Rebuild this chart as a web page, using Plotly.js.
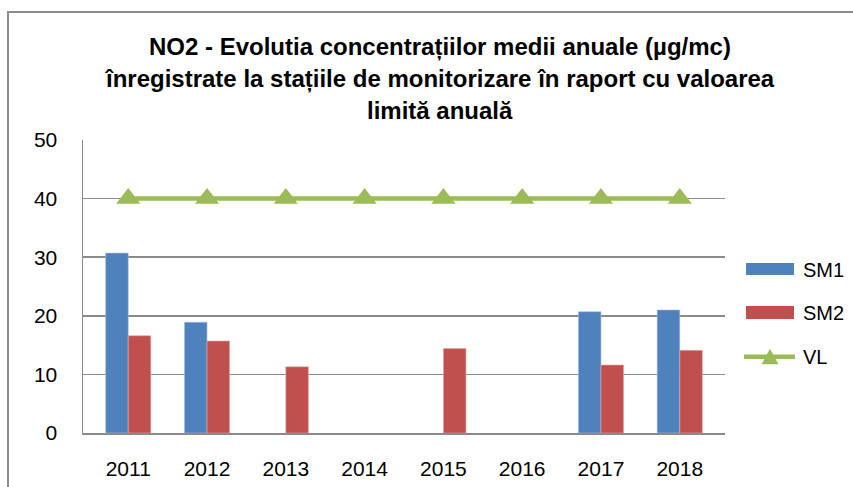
<!DOCTYPE html>
<html>
<head>
<meta charset="utf-8">
<script src="https://cdn.plot.ly/plotly-3.0.1.min.js"></script>
<style>
  html, body { margin: 0; padding: 0; overflow: hidden; background: #fff; }
  #wrap { position: relative; width: 853px; height: 487px; overflow: hidden; }
  #chart { position: absolute; left: 0; top: 0; width: 853px; height: 487px; }
  #frame { position: absolute; left: 7px; top: 11px; width: 1000px; height: 1000px;
           border: 2px solid #8c8c8c; pointer-events: none; box-sizing: border-box; }
</style>
</head>
<body>
<div id="wrap">
  <div id="chart"></div>
  <div id="frame"></div>
</div>
<script>
const years = ['2011', '2012', '2013', '2014', '2015', '2016', '2017', '2018'];
const sm1 = [30.7, 18.9, null, null, null, null, 20.7, 21.0];
const sm2 = [16.6, 15.7, 11.3, null, 14.4, null, 11.6, 14.1];
const vl = [40, 40, 40, 40, 40, 40, 40, 40];
const seriesNames = ['SM1', 'SM2', 'VL'];
const titleLines = [
  'NO2 - Evolutia concentrațiilor medii anuale (µg/mc)',
  'înregistrate la stațiile de monitorizare în raport cu valoarea',
  'limită anuală'
];
const yTicks = [0, 10, 20, 30, 40, 50];

const C1 = '#4F81BD', C2 = '#C0504D', C3 = '#9BBB59';
const gridC = '#8a8a8a';
const tickFont = { family: 'Liberation Sans, Arial, sans-serif', size: 21, color: '#000' };

const traces = [
  { type: 'bar', name: seriesNames[0], x: years, y: sm1, marker: { color: C1, line: { color: '#a9c0de', width: 0.6 } }, showlegend: false, hoverinfo: 'x+y' },
  { type: 'bar', name: seriesNames[1], x: years, y: sm2, marker: { color: C2, line: { color: '#e0a9a7', width: 0.6 } }, showlegend: false, hoverinfo: 'x+y' },
  { type: 'scatter', mode: 'lines+markers', name: seriesNames[2], x: years, y: vl,
    line: { color: C3, width: 4.5 }, marker: { symbol: 'triangle-up', size: 21, color: C3 }, showlegend: false }
];

// paper-coordinate helpers for the plot area
const L = 83, R = 725, T = 140, B = 433;
const px = v => (v - L) / (R - L);
const py = v => (B - v) / (B - T);

const annotations = titleLines.map((t, i) => ({
  text: '<b>' + t + '</b>', xref: 'paper', yref: 'paper',
  x: px(440), y: py([47, 79, 110][i]), xanchor: 'center', yanchor: 'middle',
  showarrow: false, font: { family: 'Liberation Sans Narrow, Arial Narrow, sans-serif', size: 24, color: '#000' }
}));
[[seriesNames[0], 270], [seriesNames[1], 312.7], [seriesNames[2], 356.7]].forEach(([n, y]) => {
  annotations.push({ text: n, xref: 'paper', yref: 'paper', x: px(801), y: py(y),
    xanchor: 'left', yanchor: 'middle', showarrow: false,
    font: { family: 'Liberation Sans, Arial, sans-serif', size: 20, color: '#000' } });
});

const shapes = [
  { type: 'rect', xref: 'paper', yref: 'paper', x0: px(746), x1: px(794), y0: py(275), y1: py(263), fillcolor: C1, line: { width: 0 } },
  { type: 'rect', xref: 'paper', yref: 'paper', x0: px(746), x1: px(794), y0: py(319), y1: py(306), fillcolor: C2, line: { width: 0 } },
  { type: 'line', xref: 'paper', yref: 'paper', x0: px(744), x1: px(795), y0: py(356.7), y1: py(356.7), line: { color: C3, width: 4.5 } },
  { type: 'path', xref: 'paper', yref: 'paper',
    path: `M ${px(761.5)},${py(364.3)} L ${px(778.5)},${py(364.3)} L ${px(770)},${py(348.7)} Z`,
    fillcolor: C3, line: { width: 0 } }
];

const layout = {
  width: 853, height: 487,
  margin: { l: L, r: 853 - R, t: T, b: 487 - B, pad: 0 },
  paper_bgcolor: '#fff', plot_bgcolor: '#fff',
  barmode: 'group', bargap: 0.427, bargroupgap: 0,
  showlegend: false,
  xaxis: { type: 'category', tickfont: tickFont, showgrid: false, showline: true, linecolor: gridC, linewidth: 1.5,
           ticks: '', ticklabelstandoff: 16, fixedrange: true },
  yaxis: { range: [0, 50], tickvals: yTicks, tickfont: tickFont, showgrid: true, gridcolor: gridC, gridwidth: 1.5,
           showline: true, linecolor: gridC, linewidth: 1.5, zeroline: false, ticks: '', ticklabelstandoff: 20, fixedrange: true },
  annotations: annotations,
  shapes: shapes
};

Plotly.newPlot('chart', traces, layout, { displayModeBar: false, staticPlot: true });
</script>
</body>
</html>
